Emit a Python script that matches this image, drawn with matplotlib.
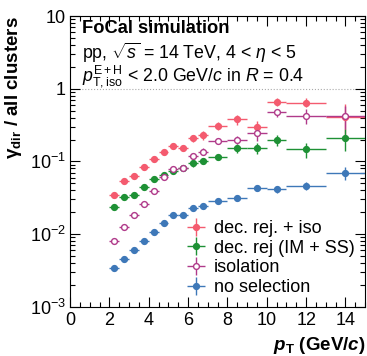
import matplotlib.pyplot as plt
import numpy as np
from matplotlib.ticker import FixedLocator, FixedFormatter, MultipleLocator, LogLocator, NullFormatter

plt.rcParams['font.family'] = ['Liberation Sans', 'DejaVu Sans']
plt.rcParams['mathtext.fontset'] = 'custom'
plt.rcParams['mathtext.rm'] = 'Liberation Sans'
plt.rcParams['mathtext.it'] = 'Liberation Sans:italic'
plt.rcParams['mathtext.bf'] = 'Liberation Sans:bold'
plt.rcParams['mathtext.bfit'] = 'Liberation Sans:italic:bold'

# pT bins (centres and half-widths)
pt = [2.25, 2.75, 3.25, 3.75, 4.25, 4.75, 5.25, 5.75, 6.25, 6.75, 7.5, 8.5, 9.5, 10.5, 12, 14]
pt_err = [0.25] * 10 + [0.5, 0.5, 0.5, 0.5, 1, 1]

dec_iso = [0.0347, 0.0546, 0.0638, 0.083, 0.107, 0.134, 0.163, 0.152, 0.208, 0.229,
           0.308, 0.38, 0.30, 0.66, 0.645, 0.41]
dec_iso_err = [0.002, 0.003, 0.004, 0.005, 0.007, 0.009, 0.012, 0.012, 0.025, 0.03,
               0.04, 0.06, 0.06, 0.09, 0.09, 0.2]

dec_rej = [0.0239, 0.0322, 0.0347, 0.0442, 0.0574, 0.0652, 0.0748, 0.0805, 0.0944, 0.1016,
           0.114, 0.152, 0.152, 0.198, 0.147, 0.208]
dec_rej_err = [0.0015, 0.002, 0.002, 0.003, 0.004, 0.005, 0.006, 0.006, 0.01, 0.01,
               0.01, 0.02, 0.025, 0.035, 0.035, 0.07]

iso = [0.008, 0.0125, 0.0184, 0.0258, 0.0397, 0.0606, 0.0789, 0.0805, 0.119, 0.136,
       0.193, 0.2, 0.244, 0.474, 0.427, 0.427]
iso_err = [0.0005, 0.0008, 0.001, 0.0015, 0.002, 0.004, 0.006, 0.006, 0.012, 0.015,
           0.02, 0.025, 0.05, 0.06, 0.1, 0.15]

nosel = [0.00344, 0.00461, 0.00608, 0.008, 0.0107, 0.0144, 0.0182, 0.0182, 0.023, 0.0244,
         0.029, 0.0312, 0.0428, 0.0415, 0.046, 0.070]
nosel_err = [0.0002, 0.0002, 0.0003, 0.0004, 0.0005, 0.0007, 0.0009, 0.0009, 0.0012, 0.0015,
             0.0015, 0.002, 0.004, 0.005, 0.006, 0.015]

fig = plt.figure(figsize=(3.67, 3.56), dpi=100)
ax = fig.add_axes([0.191, 0.138, 0.804, 0.817])

series = [
    (dec_iso, dec_iso_err, '#f45b6f', True, 'dec. rej. + iso'),
    (dec_rej, dec_rej_err, '#1e9135', True, 'dec. rej (IM + SS)'),
    (iso, iso_err, '#b03a8a', False, 'isolation'),
    (nosel, nosel_err, '#3e78b8', True, 'no selection'),
]
for vals, errs, col, filled, lab in series:
    ax.errorbar(pt, vals, xerr=pt_err, yerr=errs, fmt='o', color=col, ecolor=col,
                elinewidth=1.0, markersize=4.2,
                markerfacecolor=col if filled else 'white', markeredgecolor=col,
                markeredgewidth=1.0, capsize=0, label=lab)

ax.axhline(1, color='#aaaaaa', lw=0.8, ls=':', zorder=0)

ax.set_yscale('log')
ax.set_xlim(0, 15)
ax.set_ylim(1e-3, 10)
ax.yaxis.set_major_locator(FixedLocator([1e-3, 1e-2, 1e-1, 1, 10]))
ax.yaxis.set_major_formatter(FixedFormatter(['$10^{-3}$', '$10^{-2}$', '$10^{-1}$', '1', '10']))
ax.yaxis.set_minor_locator(LogLocator(base=10, subs=np.arange(2, 10)))
ax.yaxis.set_minor_formatter(NullFormatter())
ax.xaxis.set_major_locator(MultipleLocator(2))
ax.xaxis.set_minor_locator(MultipleLocator(0.5))
ax.tick_params(which='both', direction='in', top=True, right=True, labelsize=13)
ax.tick_params(which='major', length=7, width=0.8)
ax.tick_params(which='minor', length=3.5, width=0.8)
ax.tick_params(axis='x', pad=4)
ax.tick_params(axis='y', pad=3)

ax.set_xlabel(r'$\mathbfit{p}_{\mathbf{T}}$ (GeV/$\mathbfit{c}$)', fontsize=13.5, fontweight='bold', loc='right')
ax.set_ylabel(r'γ$_{\mathbf{dir}}$ / all clusters', fontsize=13.5, fontweight='bold', loc='top', labelpad=4)

ax.text(0.04, 0.985, 'FoCal simulation', transform=ax.transAxes, fontsize=13.2,
        fontweight='bold', va='top')
ax.text(0.04, 0.915, r'pp, $\sqrt{s}$ = 14 TeV, 4 < $\eta$ < 5', transform=ax.transAxes,
        fontsize=12.8, va='top')
ax.text(0.04, 0.84, r'$p_{\mathrm{T,iso}}^{\mathrm{E+H}}$ < 2.0 GeV/$c$ in $R$ = 0.4',
        transform=ax.transAxes, fontsize=12.8, va='top')

ax.legend(loc='lower right', bbox_to_anchor=(1.0, 0.0), frameon=False, fontsize=13,
          handlelength=1.3, handletextpad=0.3, labelspacing=0.15, borderaxespad=0.3,
          borderpad=0.3)

plt.savefig('out.png', dpi=100)
